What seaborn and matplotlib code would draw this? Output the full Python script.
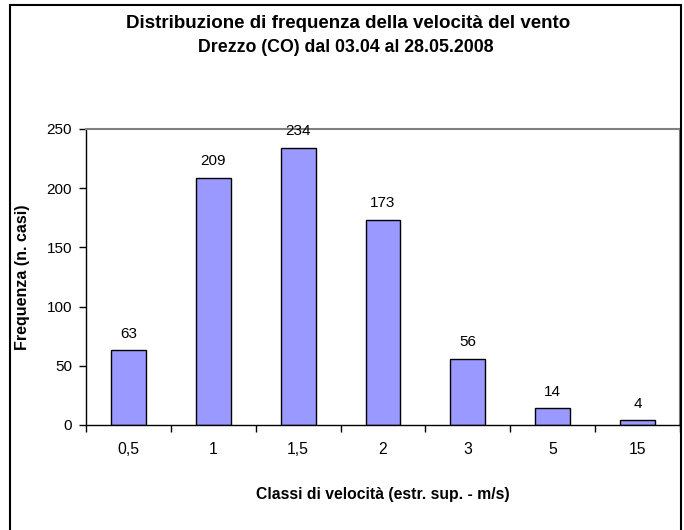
import matplotlib
matplotlib.use("Agg")
import matplotlib.pyplot as plt
import seaborn as sns
import pandas as pd
from matplotlib.patches import Rectangle

classes = ["0,5", "1", "1,5", "2", "3", "5", "15"]
counts = [63, 209, 234, 173, 56, 14, 4]
title_lines = ["Distribuzione di frequenza della velocità del vento",
               "Drezzo (CO) dal 03.04 al 28.05.2008"]

df = pd.DataFrame({"classe": classes, "n": counts})

sns.set_style("white")
plt.rcParams["font.family"] = ["Liberation Sans", "DejaVu Sans"]
plt.rcParams["text.color"] = "black"
plt.rcParams["axes.labelcolor"] = "black"
plt.rcParams["xtick.color"] = "black"
plt.rcParams["ytick.color"] = "black"

W, H = 684, 530
fig = plt.figure(figsize=(W / 100, H / 100), dpi=100)
ax = fig.add_axes([86 / W, 1 - 425 / H, (680 - 86) / W, (425 - 129) / H])

sns.barplot(data=df, x="classe", y="n", color="#9999FF", saturation=1,
            width=0.41, edgecolor="black", linewidth=1, ax=ax)

# etichette dei valori sopra le barre
for i, v in enumerate(counts):
    ax.annotate(str(v), (i, v), xytext=(0, 7), textcoords="offset points",
                ha="center", va="bottom", fontsize=11)

ax.set_ylim(0, 250)
ax.set_xlim(-0.5, len(classes) - 0.5)
ax.set_yticks(range(0, 251, 50))
ax.set_xticks(range(len(classes)))
ax.set_xticklabels(classes)
ax.set_xticks([i + 0.5 for i in range(-1, len(classes))], minor=True)
ax.tick_params(axis="x", which="major", bottom=True, length=0, pad=12, labelsize=11.3)
ax.tick_params(axis="x", which="minor", bottom=True, length=5, width=1, direction="out")
ax.tick_params(axis="y", left=True, length=5, width=1, direction="out", labelsize=11, pad=5)

ax.set_xlabel("Classi di velocità (estr. sup. - m/s)", fontsize=11.3, fontweight="bold")
ax.set_ylabel("Frequenza (n. casi)", fontsize=11.5, fontweight="bold")
ax.xaxis.set_label_coords(0.5, (425 - 495) / 296)
ax.xaxis.label.set_va("center")
ax.yaxis.set_label_coords((23 - 86) / 594, 0.5)
ax.yaxis.label.set_va("center")

for side in ["left", "bottom"]:
    ax.spines[side].set_color("black")
    ax.spines[side].set_linewidth(1)
for side in ["top", "right"]:
    ax.spines[side].set_color("#808080")
    ax.spines[side].set_linewidth(1.5)

fig.text(348 / W, 1 - 23 / H, title_lines[0], ha="center", va="center",
         fontsize=13.5, fontweight="bold")
fig.text(346 / W, 1 - 47 / H, title_lines[1], ha="center", va="center",
         fontsize=12.8, fontweight="bold")

# cornice esterna del grafico
fig.patches.append(Rectangle((10, -20), 671, H - 5 + 20, transform=None,
                             fill=False, edgecolor="black", linewidth=1.5))

fig.savefig("out.png", dpi=100)
